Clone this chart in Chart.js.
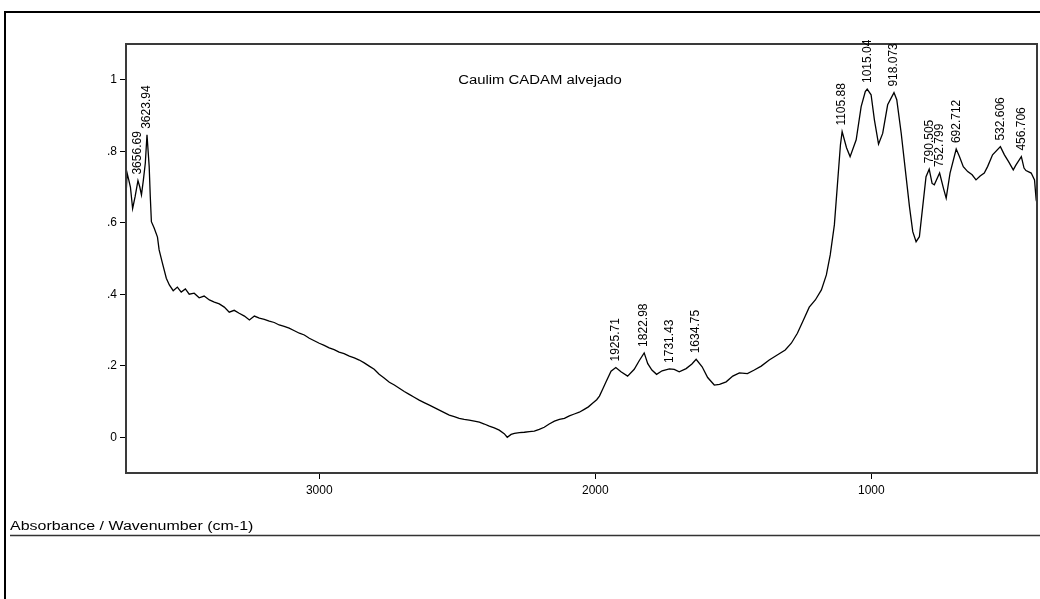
<!DOCTYPE html>
<html>
<head>
<meta charset="utf-8">
<script src="https://cdn.jsdelivr.net/npm/chart.js@4.4.0/dist/chart.umd.min.js"></script>
<style>
  html, body { margin: 0; padding: 0; background: #fff; }
  #wrap { width: 1040px; height: 599px; position: relative; }
</style>
</head>
<body>
<div id="wrap"><canvas id="spec" width="1040" height="599"></canvas></div>
<script>
// IR spectrum: wavenumber (cm-1) against absorbance
const wavenumbers = [
  3700, 3696, 3690, 3684, 3676, 3667, 3656.69, 3650, 3644, 3637, 3630, 3623.94, 3616, 3612, 3608, 3598, 3586,
  3580, 3569, 3554, 3543, 3529, 3514, 3500, 3485, 3471, 3453, 3435, 3417, 3398, 3380, 3362, 3344, 3326, 3308,
  3290, 3271, 3253, 3235, 3217, 3199, 3181, 3163, 3145, 3127, 3109, 3090, 3072, 3054, 3036, 3018, 3000, 2982,
  2964, 2946, 2928, 2910, 2891, 2873, 2855, 2837, 2819, 2801, 2783, 2765, 2746, 2728, 2710, 2692, 2674, 2656,
  2638, 2620, 2601, 2583, 2565, 2547, 2529, 2511, 2493, 2475, 2457, 2438, 2420, 2402, 2384, 2366, 2348, 2330,
  2319, 2305, 2293, 2275, 2257, 2239, 2221, 2203, 2185, 2167, 2148, 2130, 2112, 2094, 2076, 2058, 2040, 2025,
  2010, 1995, 1985, 1973, 1961, 1943, 1925.71, 1907, 1883, 1859, 1841, 1822.98, 1810, 1795, 1778, 1758, 1731.43,
  1714, 1696, 1671, 1650, 1634.75, 1613, 1593, 1569, 1550, 1526, 1502, 1478, 1449, 1424, 1399, 1370, 1341, 1312,
  1290, 1268, 1246, 1225, 1203, 1181, 1163, 1149, 1134, 1123, 1112, 1105.88, 1090, 1077, 1055, 1037, 1022,
  1015.04, 1001, 989, 974, 959, 941, 918.073, 908, 892, 877, 862, 850, 838, 826, 814, 802, 790.505, 780, 772,
  752.799, 739, 729, 715, 692.712, 681, 667, 651, 635, 621, 606, 591, 579, 561, 532.606, 518, 503, 486, 476,
  456.706, 447, 440, 421, 409, 403, 400
];
const absorbance = [
  0.673, 0.739, 0.72, 0.70, 0.64, 0.673, 0.718, 0.70, 0.678, 0.72, 0.767, 0.846, 0.757, 0.673, 0.603, 0.585, 0.56,
  0.524, 0.49, 0.445, 0.426, 0.41, 0.42, 0.406, 0.415, 0.40, 0.403, 0.39, 0.395, 0.384, 0.378, 0.373, 0.364, 0.35, 0.355,
  0.347, 0.339, 0.328, 0.339, 0.333, 0.33, 0.325, 0.321, 0.314, 0.31, 0.305, 0.298, 0.291, 0.286, 0.277, 0.27, 0.263, 0.257,
  0.25, 0.245, 0.238, 0.234, 0.227, 0.222, 0.216, 0.208, 0.199, 0.19, 0.176, 0.166, 0.154, 0.146, 0.137, 0.128, 0.12, 0.112,
  0.104, 0.097, 0.09, 0.083, 0.076, 0.069, 0.062, 0.058, 0.053, 0.05, 0.048, 0.045, 0.042, 0.037, 0.031, 0.026, 0.02, 0.01,
  0.0, 0.008, 0.011, 0.013, 0.014, 0.016, 0.017, 0.022, 0.028, 0.037, 0.045, 0.05, 0.053, 0.06, 0.065, 0.07, 0.078, 0.085,
  0.095, 0.105, 0.115, 0.135, 0.155, 0.185, 0.195, 0.183, 0.171, 0.19, 0.214, 0.236, 0.206, 0.188, 0.176, 0.186, 0.191,
  0.19, 0.183, 0.192, 0.205, 0.218, 0.197, 0.167, 0.146, 0.148, 0.155, 0.171, 0.18, 0.178, 0.188, 0.199, 0.216, 0.23, 0.244,
  0.263, 0.291, 0.328, 0.364, 0.384, 0.412, 0.454, 0.51, 0.594, 0.706, 0.818, 0.855, 0.81, 0.785, 0.832, 0.925, 0.967,
  0.974, 0.958, 0.888, 0.82, 0.85, 0.93, 0.964, 0.944, 0.851, 0.748, 0.645, 0.575, 0.547, 0.561, 0.645, 0.729, 0.75, 0.71, 0.706,
  0.739, 0.697, 0.669, 0.739, 0.806, 0.785, 0.757, 0.743, 0.734, 0.72, 0.731, 0.739, 0.757, 0.79, 0.813, 0.79, 0.771, 0.748, 0.762,
  0.785, 0.753, 0.746, 0.739, 0.72, 0.664, 0.655
];

// Annotated peak positions
const peakLabels = ['3656.69', '3623.94', '1925.71', '1822.98', '1731.43', '1634.75', '1105.88',
  '1015.04', '918.073', '790.505', '752.799', '692.712', '532.606', '456.706'];

// Axis ticks
const xTicks = [1000, 2000, 3000];
const xTickLabels = ['1000', '2000', '3000'];
const yTicks = [0, 0.2, 0.4, 0.6, 0.8, 1];
const yTickLabels = ['0', '.2', '.4', '.6', '.8', '1'];

const chartTitle = 'Caulim CADAM alvejado';
const footerText = 'Absorbance / Wavenumber (cm-1)';

const FONT = '"Liberation Sans", Arial, sans-serif';

const labelFor = (ticks, labels) => v => {
  const k = ticks.findIndex(t => Math.abs(t - v) < 1e-9);
  return k >= 0 ? labels[k] : '';
};

const decor = {
  id: 'decor',
  beforeDraw(chart) {
    const ctx = chart.ctx;
    ctx.save();
    ctx.fillStyle = '#fff';
    ctx.fillRect(0, 0, chart.width, chart.height);
    // outer frame
    ctx.strokeStyle = '#000';
    ctx.lineWidth = 2;
    ctx.beginPath();
    ctx.moveTo(5, chart.height);
    ctx.lineTo(5, 12);
    ctx.lineTo(chart.width, 12);
    ctx.stroke();
    // footer caption and rule
    ctx.fillStyle = '#000';
    ctx.font = '12px ' + FONT;
    ctx.textBaseline = 'alphabetic';
    ctx.textAlign = 'left';
    ctx.translate(10, 530);
    ctx.scale(1.33, 1);
    ctx.fillText(footerText, 0, 0);
    ctx.setTransform(1, 0, 0, 1, 0, 0);
    ctx.strokeStyle = '#333';
    ctx.lineWidth = 1.5;
    ctx.beginPath();
    ctx.moveTo(10, 535.5);
    ctx.lineTo(chart.width, 535.5);
    ctx.stroke();
    ctx.restore();
  },
  afterDatasetsDraw(chart) {
    const ctx = chart.ctx;
    const a = chart.chartArea;
    const xs = chart.scales.x, ys = chart.scales.y;
    ctx.save();
    // plot frame
    ctx.strokeStyle = '#3a3a3a';
    ctx.lineWidth = 2;
    ctx.strokeRect(a.left, a.top, a.right - a.left, a.bottom - a.top);
    // title inside the plot
    ctx.fillStyle = '#000';
    ctx.font = '12px ' + FONT;
    ctx.textAlign = 'center';
    ctx.textBaseline = 'middle';
    ctx.translate(540, 81);
    ctx.scale(1.24, 1);
    ctx.fillText(chartTitle, 0, 0);
    ctx.setTransform(1, 0, 0, 1, 0, 0);
    // peak annotations, placed above each peak's data point
    ctx.font = '12px ' + FONT;
    ctx.textAlign = 'left';
    ctx.textBaseline = 'middle';
    peakLabels.forEach(lbl => {
      const w = parseFloat(lbl);
      const i = wavenumbers.indexOf(w);
      if (i < 0) return;
      const px = xs.getPixelForValue(w);
      const py = ys.getPixelForValue(absorbance[i]);
      ctx.save();
      ctx.translate(px, py - 6);
      ctx.rotate(-Math.PI / 2);
      ctx.fillText(lbl, 0, 0);
      ctx.restore();
    });
    ctx.restore();
  }
};

new Chart(document.getElementById('spec'), {
  type: 'scatter',
  data: {
    datasets: [{
      data: wavenumbers.map((w, i) => ({ x: w, y: absorbance[i] })),
      showLine: true,
      borderColor: '#000',
      borderWidth: 1.3,
      pointRadius: 0,
      tension: 0,
      fill: false
    }]
  },
  options: {
    responsive: false,
    animation: false,
    layout: { padding: { left: 0, top: 44, right: 3, bottom: 96 } },
    plugins: { legend: { display: false }, tooltip: { enabled: false }, title: { display: false } },
    scales: {
      x: {
        type: 'linear',
        reverse: true,
        min: 400,
        max: 3700,
        afterBuildTicks: s => { s.ticks = xTicks.map(v => ({ value: v })); },
        afterFit: s => { s.height = 30; },
        grid: { drawOnChartArea: false, drawTicks: true, tickLength: 6, color: '#000' },
        border: { display: false },
        ticks: {
          color: '#000', font: { size: 12, family: FONT }, padding: 4, maxRotation: 0, autoSkip: false,
          callback: labelFor(xTicks, xTickLabels)
        }
      },
      y: {
        min: -0.1,
        max: 1.1,
        afterBuildTicks: s => { s.ticks = yTicks.map(v => ({ value: v })); },
        afterFit: s => { s.width = 126; },
        grid: { drawOnChartArea: false, drawTicks: true, tickLength: 6, color: '#000' },
        border: { display: false },
        ticks: {
          color: '#000', font: { size: 12, family: FONT }, padding: 3, autoSkip: false,
          callback: labelFor(yTicks, yTickLabels)
        }
      }
    }
  },
  plugins: [decor]
});
</script>
</body>
</html>
